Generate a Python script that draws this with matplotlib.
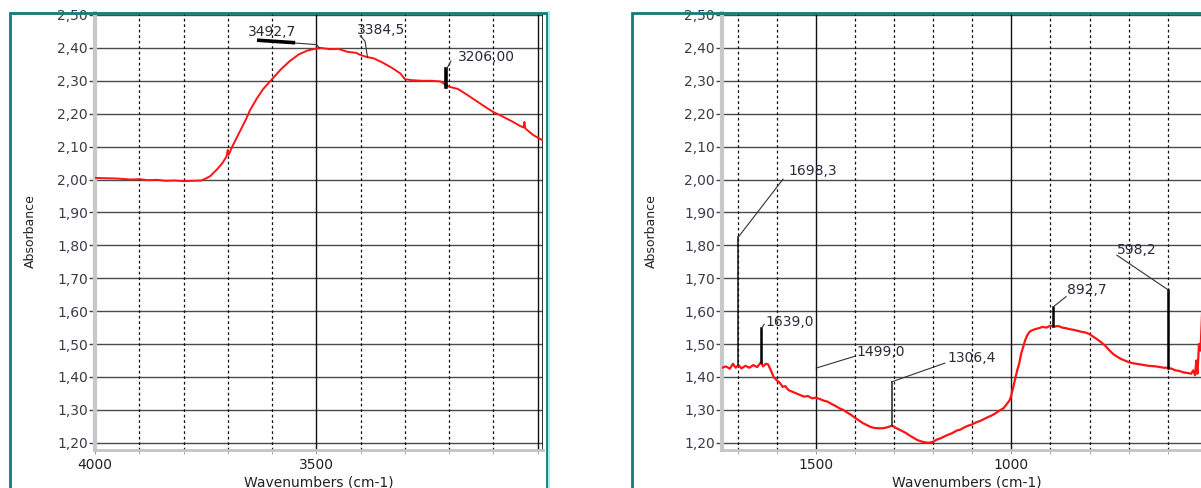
import matplotlib
matplotlib.use("Agg")
import matplotlib.pyplot as plt
from matplotlib.patches import Rectangle
from matplotlib.lines import Line2D
from matplotlib.ticker import FuncFormatter, MultipleLocator, FixedLocator

# absorbance spectrum, 4000-3000 cm-1 region
wn_high = [4000, 3980, 3950, 3920, 3900, 3880, 3860, 3840, 3820, 3800, 3780, 3760,
           3750, 3740, 3725, 3712, 3703, 3700, 3698, 3690, 3675, 3660, 3650, 3635,
           3620, 3600, 3580, 3560, 3540, 3520, 3500, 3490, 3470, 3450, 3430, 3410,
           3400, 3385, 3370, 3350, 3330, 3310, 3300, 3285, 3260, 3240, 3220, 3200,
           3180, 3160, 3140, 3120, 3100, 3080, 3060, 3040, 3032, 3030, 3028, 3010, 2990]
abs_high = [2.005, 2.004, 2.003, 2.000, 2.001, 1.998, 1.999, 1.996, 1.997, 1.995, 1.996, 1.997,
            2.003, 2.010, 2.030, 2.050, 2.070, 2.090, 2.075, 2.100, 2.140, 2.180, 2.210, 2.245,
            2.275, 2.305, 2.335, 2.360, 2.380, 2.392, 2.398, 2.400, 2.396, 2.397, 2.388, 2.385,
            2.378, 2.372, 2.368, 2.355, 2.340, 2.322, 2.305, 2.302, 2.300, 2.300, 2.298, 2.282,
            2.275, 2.258, 2.240, 2.222, 2.205, 2.192, 2.178, 2.163, 2.158, 2.175, 2.155, 2.135, 2.120]

# fingerprint region, 1740-500 cm-1
wn_low = [1740, 1730, 1720, 1712, 1705, 1698, 1690, 1680, 1670, 1660, 1650, 1640, 1635,
          1628, 1622, 1615, 1608, 1600, 1592, 1585, 1578, 1570, 1560, 1550, 1540, 1530,
          1520, 1510, 1500, 1490, 1480, 1470, 1460, 1450, 1440, 1430, 1420, 1410, 1400,
          1390, 1380, 1370, 1360, 1350, 1340, 1330, 1320, 1310, 1305, 1295, 1280, 1270,
          1260, 1250, 1240, 1230, 1220, 1210, 1200, 1190, 1180, 1170, 1160, 1150, 1140,
          1130, 1120, 1110, 1100, 1090, 1080, 1070, 1060, 1050, 1040, 1030, 1020, 1010,
          1004, 1000, 995, 990, 985, 980, 975, 970, 965, 960, 955, 950, 940, 930, 920,
          910, 900, 890, 880, 870, 860, 850, 840, 830, 820, 810, 800, 790, 780, 770, 760,
          750, 740, 730, 720, 710, 700, 690, 680, 670, 660, 650, 640, 630, 620, 610, 600,
          590, 580, 570, 560, 550, 540, 535, 530, 527, 524, 520, 516, 512, 508, 505, 500]
abs_low = [1.428, 1.432, 1.425, 1.440, 1.428, 1.436, 1.426, 1.434, 1.428, 1.436, 1.430, 1.445, 1.432,
           1.440, 1.438, 1.420, 1.400, 1.390, 1.382, 1.370, 1.372, 1.360, 1.355, 1.350, 1.345, 1.340,
           1.342, 1.335, 1.337, 1.333, 1.328, 1.325, 1.318, 1.312, 1.305, 1.300, 1.292, 1.285, 1.276,
           1.268, 1.260, 1.254, 1.248, 1.245, 1.244, 1.244, 1.246, 1.250, 1.252, 1.245, 1.236, 1.230,
           1.222, 1.215, 1.208, 1.204, 1.201, 1.200, 1.203, 1.210, 1.214, 1.220, 1.225, 1.230, 1.237,
           1.240, 1.247, 1.252, 1.256, 1.262, 1.266, 1.272, 1.278, 1.283, 1.290, 1.298, 1.305, 1.320,
           1.330, 1.345, 1.370, 1.395, 1.420, 1.440, 1.470, 1.490, 1.510, 1.525, 1.535, 1.540, 1.545, 1.548, 1.552,
           1.550, 1.556, 1.553, 1.555, 1.550, 1.548, 1.545, 1.543, 1.540, 1.537, 1.535, 1.530, 1.522, 1.514, 1.505, 1.495,
           1.482, 1.470, 1.462, 1.455, 1.450, 1.445, 1.442, 1.440, 1.438, 1.436, 1.434, 1.433, 1.432, 1.430, 1.428, 1.428,
           1.425, 1.420, 1.418, 1.414, 1.412, 1.410, 1.420, 1.405, 1.450, 1.410, 1.500, 1.480, 1.600, 1.750, 1.900, 2.100]

# labelled peaks
peaks_high = [3492.7, 3384.5, 3206.00]
peak_labels_high = ["3492,7", "3384,5", "3206,00"]
peaks_low = [1698.3, 1639.0, 1499.0, 1306.4, 892.7, 598.2]
peak_labels_low = ["1698,3", "1639,0", "1499,0", "1306,4", "892,7", "598,2"]

# wavenumbers that carry a tick label
xticks_high = [4000, 3500]
xticks_low = [1500, 1000]

W, H = 1201, 488
fig = plt.figure(figsize=(W / 100, H / 100), dpi=100)
fig.patch.set_facecolor("white")
plt.rcParams["font.family"] = ["DejaVu Sans"]

teal = "#127c79"


def px(x, y):
    return x / W, 1 - y / H


# window frames
fig.add_artist(Rectangle(px(10, 540), (547 - 10) / W, (540 - 12.5) / H, transform=fig.transFigure,
                         fill=False, edgecolor=teal, lw=2))
fig.add_artist(Line2D([549 / W, 549 / W], [1 - 12 / H, 0], transform=fig.transFigure, color="#9ef3f3", lw=1.5))
fig.add_artist(Rectangle(px(632, 540), 700 / W, (540 - 12.5) / H, transform=fig.transFigure,
                         fill=False, edgecolor=teal, lw=2))

ax1 = fig.add_axes([95 / W, 38 / H, (543 - 95) / W, 437 / H])
ax2 = fig.add_axes([722 / W, 38 / H, (1260 - 722) / W, 437 / H])


def style(ax, xlim, xticks):
    ax.set_xlim(*xlim)
    ax.set_ylim(1.178, 2.506)
    lo, hi = min(xlim), max(xlim)
    for y in [1.2 + 0.1 * i for i in range(14)]:
        ax.axhline(y, color="#4a4a4a", lw=1, zorder=1)
    for x in range(int(lo // 100 + 1) * 100, int(hi) + 1, 100):
        if x % 500 == 0:
            ax.axvline(x, color="#111111", lw=1, zorder=1)
        else:
            ax.axvline(x, color="#111111", lw=0.9, ls=(0, (2.2, 2.2)), zorder=1)
    for s in ["top", "right"]:
        ax.spines[s].set_visible(False)
    ax.spines["left"].set_color("#c8c8c8")
    ax.spines["left"].set_linewidth(3)
    ax.spines["bottom"].set_color("#c4c4c4")
    ax.spines["bottom"].set_linewidth(2)
    ax.yaxis.set_major_locator(MultipleLocator(0.1))
    ax.yaxis.set_major_formatter(FuncFormatter(lambda v, p: f"{v:.2f}".replace(".", ",")))
    ax.xaxis.set_major_locator(FixedLocator(xticks))
    ax.xaxis.set_minor_locator(MultipleLocator(100))
    ax.tick_params(axis="y", length=4, width=1, color="#444444", labelsize=10,
                   labelcolor="#3a3a4a", pad=1)
    ax.tick_params(axis="x", which="both", length=3, color="#999999", labelsize=10,
                   labelcolor="#222222", pad=3)


style(ax1, (4000, 2988), xticks_high)
style(ax2, (1740, 364), xticks_low)
ax1.axvline(2989, color="#111111", lw=1.2)

ax1.plot(wn_high, abs_high, color="#ff1414", lw=1.4, zorder=3)
ax2.plot(wn_low, abs_low, color="#ff1414", lw=1.6, zorder=3)

lead = dict(color="#333333", lw=0.8, zorder=4)
bar = dict(color="#000000", lw=1.8, zorder=4)
tkw = dict(fontsize=10, color="#2a2a3a", va="center", ha="left", zorder=5)

# high-wavenumber peak labels
ax1.plot([peaks_high[0], 3500, 3552], [2.40, 2.41, 2.415], **lead)
ax1.plot([3552, 3630], [2.416, 2.423], color="#000000", lw=2.6, zorder=4)
ax1.text(3654, 2.448, peak_labels_high[0], **tkw)
ax1.plot([peaks_high[1], 3390, 3401], [2.372, 2.42, 2.437], **lead)
ax1.text(3408, 2.454, peak_labels_high[1], **tkw)
ax1.plot([peaks_high[2], peaks_high[2]], [2.28, 2.335], color="#000000", lw=2.6, zorder=4)
ax1.plot([peaks_high[2], 3196], [2.335, 2.36], **lead)
ax1.text(3180, 2.372, peak_labels_high[2], **tkw)

# fingerprint peak labels
ax2.plot([peaks_low[0], peaks_low[0]], [1.436, 1.825], color="#111111", lw=1.1, zorder=4)
ax2.plot([peaks_low[0], 1584], [1.825, 2.001], **lead)
ax2.text(1571, 2.026, peak_labels_low[0], **tkw)
ax2.plot([peaks_low[1], peaks_low[1]], [1.445, 1.548], **bar)
ax2.plot([peaks_low[1], 1632], [1.548, 1.56], **lead)
ax2.text(1630, 1.567, peak_labels_low[1], **tkw)
ax2.plot([peaks_low[2], 1400], [1.427, 1.463], **lead)
ax2.text(1397, 1.477, peak_labels_low[2], **tkw)
ax2.plot([peaks_low[3], peaks_low[3]], [1.252, 1.385], color="#333333", lw=1.2, zorder=4)
ax2.plot([peaks_low[3], 1170], [1.385, 1.442], **lead)
ax2.text(1164, 1.457, peak_labels_low[3], **tkw)
ax2.plot([peaks_low[4], peaks_low[4]], [1.555, 1.613], **bar)
ax2.plot([peaks_low[4], 860], [1.613, 1.644], **lead)
ax2.text(858, 1.664, peak_labels_low[4], **tkw)
ax2.plot([peaks_low[5], peaks_low[5]], [1.428, 1.664], **bar)
ax2.plot([peaks_low[5], 730], [1.664, 1.77], **lead)
ax2.text(730, 1.786, peak_labels_low[5], **tkw)

for cx in (319, 967):
    fig.text(cx / W, 1 - 482 / H, "Wavenumbers (cm-1)", fontsize=10, color="#222222",
             ha="center", va="center")
for cx in (30, 651):
    fig.text(cx / W, 1 - 231 / H, "Absorbance", fontsize=9, color="#222222",
             ha="center", va="center", rotation=90)

fig.savefig("out.png", dpi=100)
